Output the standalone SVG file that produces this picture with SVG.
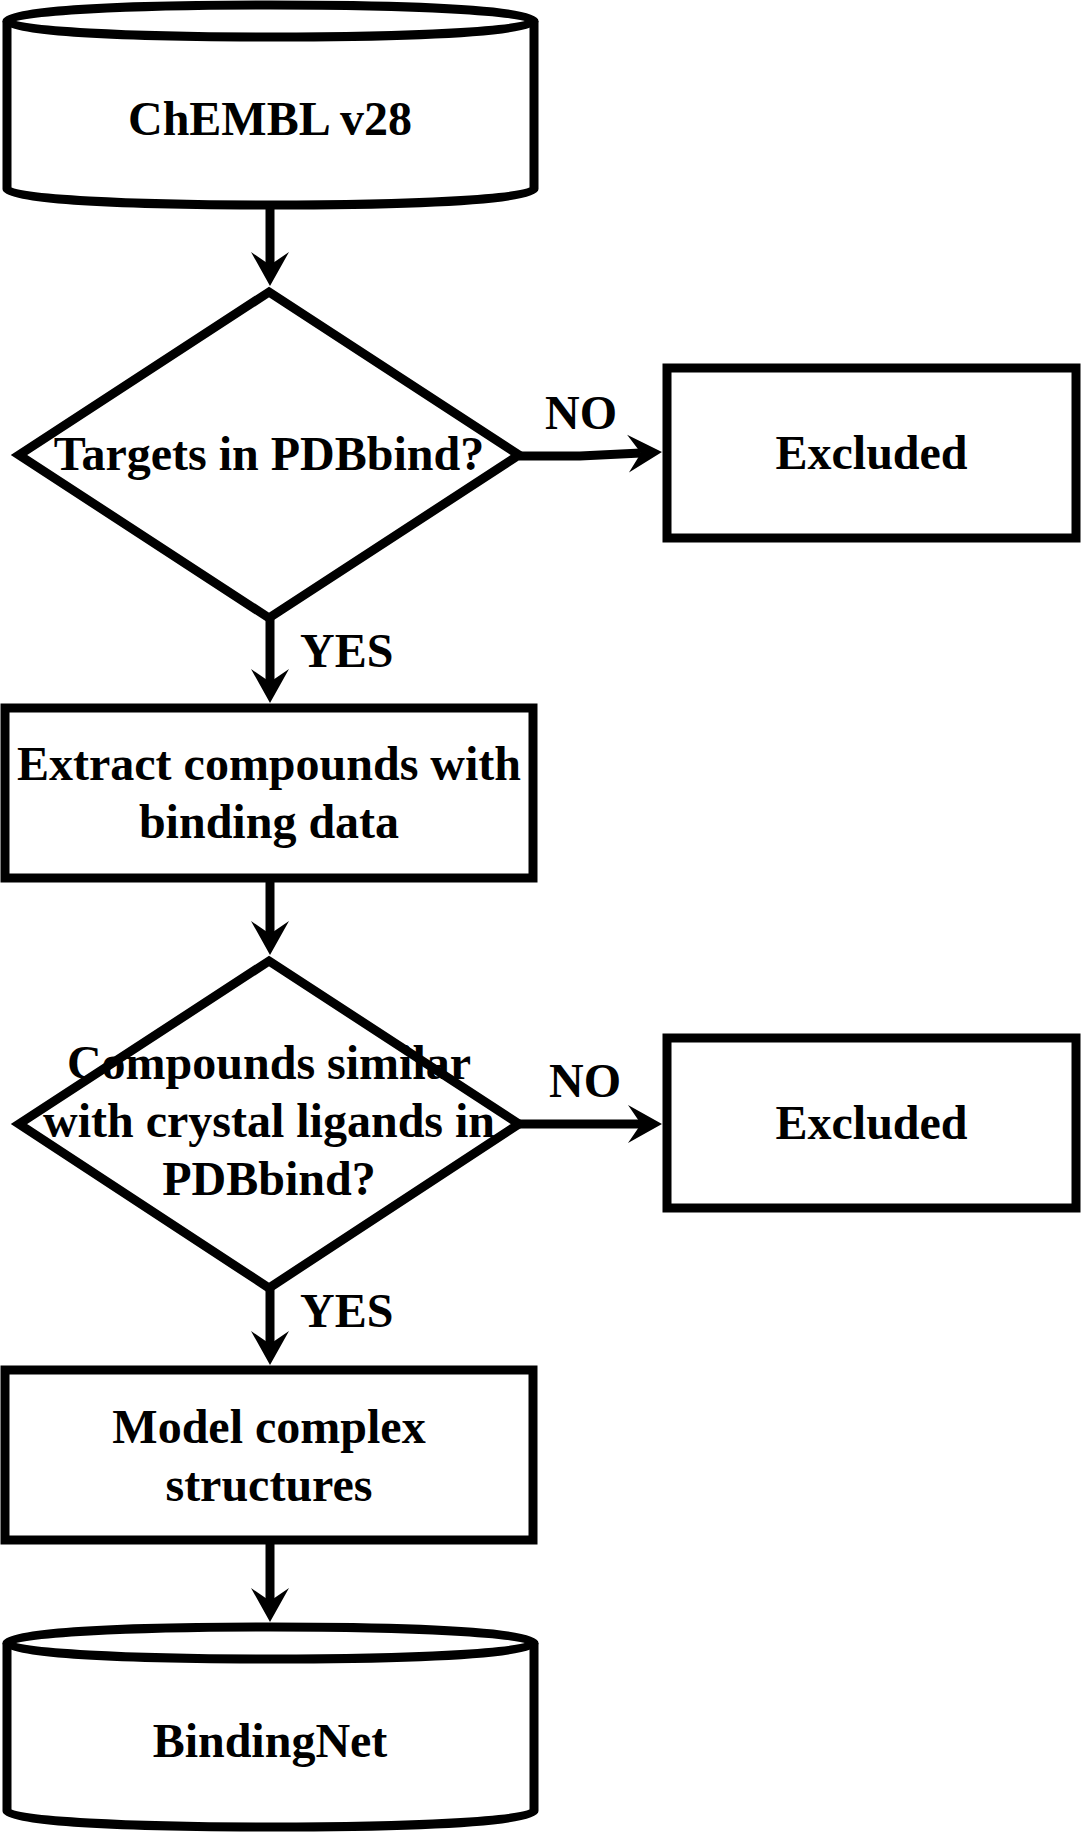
<svg xmlns="http://www.w3.org/2000/svg" width="1082" height="1833" viewBox="0 0 1082 1833">
<style>
.shape{fill:#fff;stroke:#000;stroke-width:9;stroke-linejoin:miter}
.edge{fill:none;stroke:#000;stroke-width:9}
text{font-family:"Liberation Serif","Times New Roman",serif;font-weight:bold;font-size:48px;fill:#000}
.c{text-anchor:middle}
</style>
<defs>
<marker id="arr" markerUnits="userSpaceOnUse" viewBox="-14 -20 36 40" refX="0" refY="0" markerWidth="36" markerHeight="40" orient="auto" overflow="visible">
<path d="M21,0 L-13,-19 L0,0 L-13,19 Z" fill="#000"/>
</marker>
</defs>
<rect width="1082" height="1833" fill="#fff"/>
<g id="edges">
<path class="edge" d="M270,205 L270,265" marker-end="url(#arr)"/>
<path class="edge" d="M270,618 L270,682" marker-end="url(#arr)"/>
<path class="edge" d="M270,878 L270,934" marker-end="url(#arr)"/>
<path class="edge" d="M270,1288 L270,1344" marker-end="url(#arr)"/>
<path class="edge" d="M270,1540 L270,1601" marker-end="url(#arr)"/>
<path class="edge" d="M519,456 L580,456 L641,453" marker-end="url(#arr)"/>
<path class="edge" d="M519,1124 L641,1124" marker-end="url(#arr)"/>
<text x="581" y="429" class="c">NO</text>
<text x="585" y="1097" class="c">NO</text>
<text x="300" y="667">YES</text>
<text x="300" y="1327">YES</text>
</g>
<g id="chembl">
<path class="shape" d="M7,21 C7,-0.3 534,-0.3 534,21 L534,189 C534,210.3 7,210.3 7,189 Z"/>
<path class="edge" d="M7,21 C7,42.3 534,42.3 534,21"/>
<text x="270" y="135" class="c">ChEMBL v28</text>
</g>
<g id="targets">
<path class="shape" d="M269,292 L519,455 L269,618 L19,455 Z"/>
<text x="269" y="470" class="c">Targets in PDBbind?</text>
</g>
<g id="excluded1">
<rect class="shape" x="667" y="368" width="409" height="170"/>
<text x="871.5" y="469" class="c">Excluded</text>
</g>
<g id="extract">
<rect class="shape" x="5" y="708" width="528" height="170"/>
<text x="269" y="780" class="c">Extract compounds with</text>
<text x="269" y="838" class="c">binding data</text>
</g>
<g id="similar">
<path class="shape" d="M269,961 L519,1124 L269,1288 L19,1124 Z"/>
<text x="269" y="1079" class="c">Compounds similar</text>
<text x="269" y="1137" class="c">with crystal ligands in</text>
<text x="269" y="1195" class="c">PDBbind?</text>
</g>
<g id="excluded2">
<rect class="shape" x="667" y="1038" width="409" height="170"/>
<text x="871.5" y="1139" class="c">Excluded</text>
</g>
<g id="model">
<rect class="shape" x="5" y="1370" width="528" height="170"/>
<text x="269" y="1443" class="c">Model complex</text>
<text x="269" y="1501" class="c">structures</text>
</g>
<g id="bindingnet">
<path class="shape" d="M7,1643 C7,1621.7 534,1621.7 534,1643 L534,1811 C534,1832.3 7,1832.3 7,1811 Z"/>
<path class="edge" d="M7,1643 C7,1664.3 534,1664.3 534,1643"/>
<text x="270" y="1757" class="c">BindingNet</text>
</g>
</svg>
